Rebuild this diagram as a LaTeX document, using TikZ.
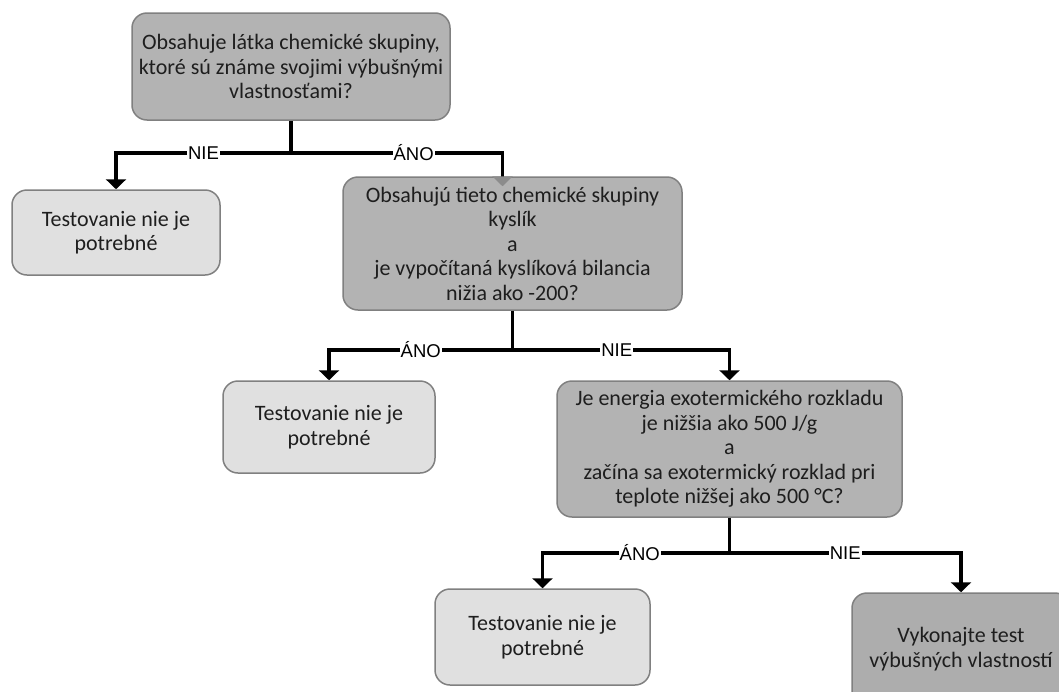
\documentclass[tikz,border=0pt]{standalone}
\usepackage{fontspec}
\setmainfont{Carlito}
\newfontfamily\labelfont{Liberation Sans}
\usetikzlibrary{arrows.meta,calc}
\definecolor{boxdark}{HTML}{B3B3B3}
\definecolor{boxend}{HTML}{ADADAD}
\definecolor{boxlight}{HTML}{E0E0E0}
\definecolor{boxline}{HTML}{808080}
\definecolor{tipgray}{HTML}{8C8C8C}
\definecolor{textdark}{HTML}{1E1E1E}
\tikzset{
  box/.style={draw=boxline, line width=1.5pt, rounded corners=15pt,
    align=center, text=textdark, inner sep=0pt,
    font=\fontsize{22}{24.5}\selectfont},
  question/.style={box, fill=boxdark},
  outcome/.style={box, fill=boxlight},
  conn/.style={line width=3.5pt, draw=black,
    -{Triangle[width=20pt,length=10pt]}},
  stem/.style={line width=3.5pt, draw=black},
  answer/.style={fill=white, inner sep=1pt, text=black,
    font=\labelfont\fontsize{18.5}{19}\selectfont}
}
\begin{document}
\begin{tikzpicture}[x=1pt,y=-1pt]
\useasboundingbox (0,0) rectangle (1059,691);
\clip (0,0) rectangle (1059,691);

% decisions and outcomes
\node[question, minimum width=318pt, minimum height=107pt] (b1) at (291,66.5)
  {Obsahuje látka chemické skupiny,\\ktoré sú známe svojimi výbušnými\\vlastnosťami?};
\node[outcome, minimum width=208pt, minimum height=85pt] (b2) at (116,232.5)
  {Testovanie nie je\\potrebné};
\node[question, minimum width=339pt, minimum height=133pt] (b3) at (512.5,243.5)
  {Obsahujú tieto chemické skupiny\\kyslík\\a\\je vypočítaná kyslíková bilancia\\nižia ako -200?};
\node[outcome, minimum width=212pt, minimum height=92pt] (b4) at (329,427)
  {Testovanie nie je\\potrebné};
\node[question, minimum width=345pt, minimum height=136pt] (b5) at (729.5,449)
  {Je energia exotermického rozkladu\\je nižšia ako 500 J/g\\a\\začína sa exotermický rozklad pri\\teplote nižšej ako 500 °C?};
\node[outcome, minimum width=215pt, minimum height=96pt] (b6) at (542.5,637)
  {Testovanie nie je\\potrebné};
\node[question, fill=boxend, minimum width=218pt, minimum height=112pt] (b7) at (961,649)
  {Vykonajte test\\výbušných vlastností};

% branching points
\coordinate (j1) at (b1.south |- 0,153);
\coordinate (j2) at (b3.south |- 0,350);
\coordinate (j3) at (b5.south |- 0,553);

\draw[stem] (b1.south) -- (j1);
\draw[stem] (b3.south) -- (j2);
\draw[stem] (b5.south) -- (j3);

\draw[conn] (j1) -| node[answer, pos=0.25] {NIE} (b2.north);
\draw[line width=3.5pt, -{Triangle[width=20pt,length=10pt,color=tipgray]}, shorten >=-10pt]
  (j1) -| node[answer, pos=0.29] {ÁNO} ([xshift=-10pt]b3.north);

\draw[conn] (j2) -| node[answer, pos=0.25] {ÁNO} (b4.north);
\draw[conn] (j2) -| node[answer, pos=0.24] {NIE} (b5.north);

\draw[conn] (j3) -| node[answer, pos=0.24] {ÁNO} (b6.north);
\draw[conn] (j3) -| node[answer, pos=0.25] {NIE} (b7.north);
\end{tikzpicture}
\end{document}
